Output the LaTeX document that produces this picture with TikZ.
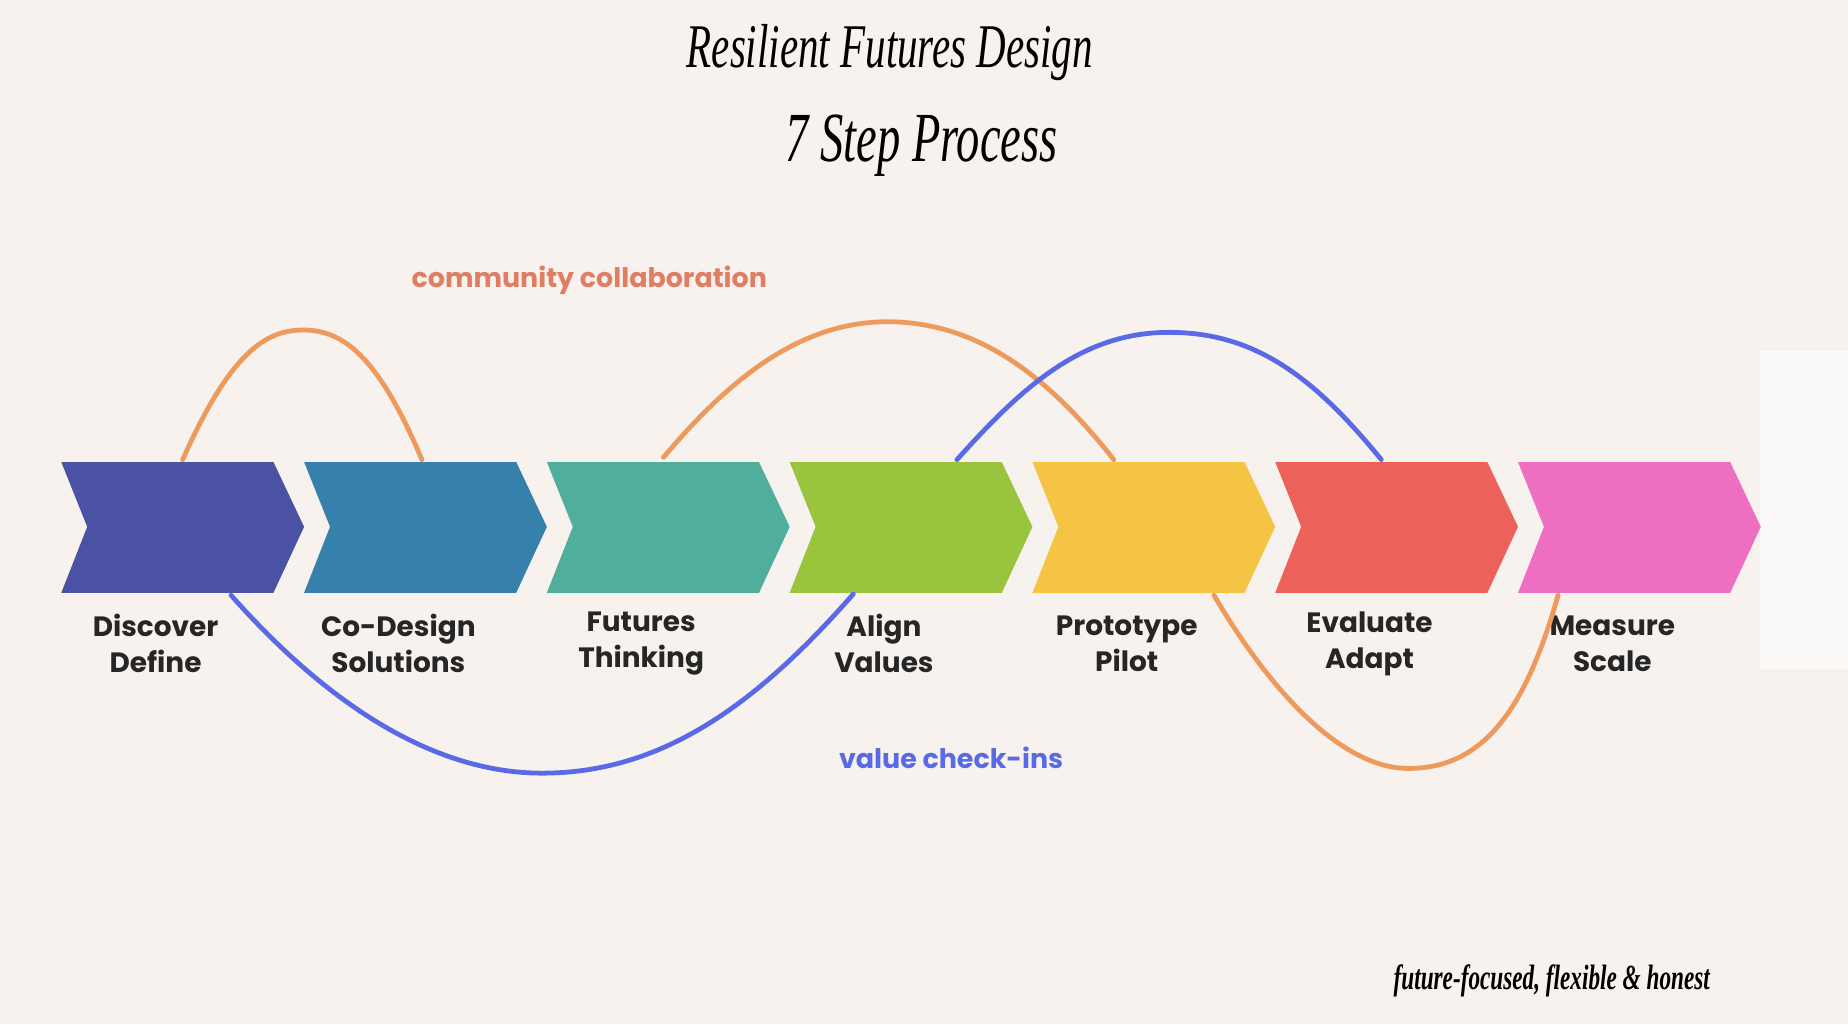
\documentclass[tikz,border=0pt]{standalone}
\usepackage{fontspec}
\setmainfont{Poppins}
\newfontfamily\titlefont[FakeStretch=0.66]{Liberation Serif}
\definecolor{bg}{HTML}{F7F2EE}
\definecolor{cA}{HTML}{4B52A3}
\definecolor{cB}{HTML}{3680AC}
\definecolor{cC}{HTML}{4FAE9C}
\definecolor{cD}{HTML}{98C53D}
\definecolor{cE}{HTML}{F6C445}
\definecolor{cF}{HTML}{EC625B}
\definecolor{cG}{HTML}{EE6FC2}
\definecolor{orng}{HTML}{EE9A5C}
\definecolor{blu}{HTML}{5A6AE6}
\definecolor{salm}{HTML}{E07E63}
\tikzset{x=0.02cm,y=-0.02cm,
 lbl/.style={font=\bfseries\fontsize{13.5}{17.5}\selectfont,align=center,text=black!85},
 arc/.style={line width=2.3pt,line cap=round}}
\begin{document}
\begin{tikzpicture}
\fill[bg] (0,0) rectangle (1568,869);
\useasboundingbox (0,0) rectangle (1568,869);
\fill[white!60!bg] (1493,298) rectangle (1568,568);
\node[font=\titlefont\itshape\fontsize{30}{34}\selectfont] (t1) at (755,45) {Resilient Futures Design};
\node[font=\titlefont\itshape\fontsize{34}{38}\selectfont] (t2) at (782,124) {7 Step Process};
\node[font=\titlefont\itshape\bfseries\fontsize{17}{20}\selectfont,anchor=east] (t3) at (1457,832) {future-focused, flexible \& honest};
\foreach \i/\c/\t [count=\k from 0] in {A/cA/{Discover\\Define},B/cB/{Co-Design\\Solutions},C/cC/{Futures\\Thinking},D/cD/{Align\\Values},E/cE/{Prototype\\Pilot},F/cF/{Evaluate\\Adapt},G/cG/{Measure\\Scale}}{
 \pgfmathsetmacro{\xo}{52+206*\k}
 \fill[\c] (\xo,392) -- ++(180,0) -- ++(26,55) -- ++(-26,56) -- ++(-180,0) -- ++(22,-56) -- cycle;
 \node[lbl] (l\i) at (\xo+80,546) {\t};
}
\coordinate (a1) at (155,390); \coordinate (b1) at (358,390);
\coordinate (a2) at (563,388); \coordinate (b2) at (945,390);
\coordinate (a3) at (812,390); \coordinate (b3) at (1172,390);
\coordinate (a4) at (196,505); \coordinate (b4) at (724,504);
\coordinate (a5) at (1030,505); \coordinate (b5) at (1322,505);
\draw[arc,orng] (a1) .. controls (195,300) and (225,280) .. (257,280) .. controls (290,280) and (320,300) .. (b1);
\draw[arc,orng] (a2) .. controls (620,320) and (680,273) .. (753,273) .. controls (830,273) and (890,320) .. (b2);
\draw[arc,blu] (a3) .. controls (870,325) and (920,282) .. (992,282) .. controls (1065,282) and (1115,320) .. (b3);
\draw[arc,blu] (a4) .. controls (280,600) and (370,656) .. (460,656) .. controls (560,656) and (640,600) .. (b4);
\draw[arc,orng] (a5) .. controls (1080,590) and (1140,652) .. (1195,652) .. controls (1260,652) and (1295,600) .. (b5);
\node[font=\bfseries\fontsize{13}{15}\selectfont,text=salm] (cc) at (500,238) {community collaboration};
\node[font=\bfseries\fontsize{13}{15}\selectfont,text=blu] (vc) at (807,643) {value check-ins};
\end{tikzpicture}
\end{document}
